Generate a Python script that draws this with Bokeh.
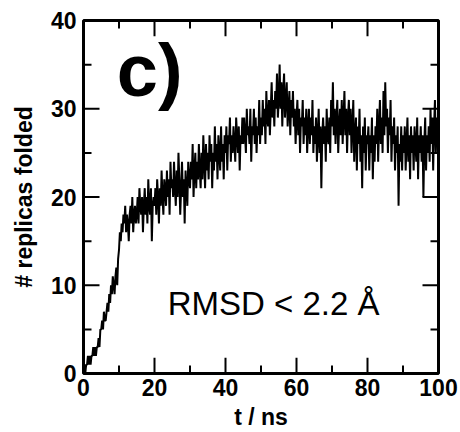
import numpy as np
from bokeh.plotting import figure
from bokeh.models import Range1d, FixedTicker, Label
from bokeh.embed import file_html
from bokeh.resources import INLINE

replicas_folded = [
    0, 1, 0, 1, 1, 2, 1, 2, 1, 2, 2, 3, 2, 3, 2, 3, 3, 4, 3, 5,
    5, 6, 5, 7, 6, 6, 7, 8, 7, 9, 8, 10, 9, 11, 10, 9, 11, 12, 10, 13,
    14, 16, 15, 17, 16, 18, 17, 19, 16, 18, 17, 15, 18, 19, 17, 20, 16, 18, 19, 17,
    18, 20, 17, 21, 19, 18, 20, 16, 19, 21, 18, 20, 17, 22, 19, 18, 21, 15, 19, 20,
    19, 21, 18, 22, 20, 17, 21, 19, 23, 20, 18, 22, 21, 19, 23, 20, 22, 18, 24, 21,
    22, 20, 24, 21, 19, 23, 20, 25, 22, 18, 21, 24, 20, 22, 17, 23, 21, 19, 24, 22,
    21, 24, 22, 26, 20, 23, 25, 21, 24, 22, 26, 23, 21, 25, 22, 27, 24, 21, 26, 23,
    25, 22, 27, 24, 26, 21, 25, 23, 28, 24, 26, 22, 27, 25, 23, 28, 24, 26, 22, 27,
    25, 28, 23, 27, 26, 29, 24, 27, 25, 28, 26, 24, 29, 27, 25, 28, 23, 27, 26, 29,
    26, 29, 27, 25, 30, 27, 28, 26, 30, 24, 28, 27, 30, 26, 29, 25, 28, 27, 31, 26,
    29, 27, 31, 28, 30, 26, 32, 29, 28, 31, 27, 30, 33, 29, 31, 28, 32, 30, 34, 29,
    31, 35, 30, 33, 28, 32, 34, 29, 31, 33, 28, 30, 32, 27, 31, 29, 32, 28, 30, 26,
    29, 31, 27, 30, 25, 29, 28, 31, 26, 29, 27, 30, 25, 28, 30, 26, 29, 27, 31, 25,
    28, 26, 29, 24, 27, 30, 25, 28, 21, 27, 29, 26, 28, 24, 30, 27, 26, 29, 25, 31,
    28, 33, 27, 30, 26, 29, 31, 25, 28, 30, 27, 31, 26, 29, 32, 27, 30, 25, 29, 31,
    27, 30, 25, 28, 31, 24, 27, 29, 23, 28, 26, 30, 24, 27, 21, 28, 25, 29, 23, 27,
    26, 28, 23, 27, 25, 29, 22, 27, 24, 28, 26, 30, 24, 28, 31, 26, 29, 25, 32, 27,
    33, 28, 30, 25, 29, 27, 31, 24, 28, 26, 29, 23, 27, 25, 28, 19, 26, 24, 28, 23,
    27, 25, 28, 23, 26, 29, 24, 27, 22, 28, 25, 27, 23, 28, 26, 24, 29, 22, 27, 25,
    28, 24, 27, 20, 26, 29, 23, 27, 25, 28, 24, 30, 26, 29, 23, 28, 31, 25, 29, 27,
    26,
]
time_ns = np.linspace(0, 100, len(replicas_folded))

x_major_ticks = [0, 20, 40, 60, 80, 100]
x_minor_ticks = [10, 30, 50, 70, 90]
y_major_ticks = [0, 10, 20, 30, 40]
y_minor_ticks = [5, 15, 25, 35]

X0, X1 = 0, 100
Y0, Y1 = 0, 40
FONT = "Liberation Sans"

p = figure(width=460, height=432, output_backend="svg", toolbar_location=None,
           x_range=Range1d(X0, X1), y_range=Range1d(Y0, Y1),
           min_border_left=83, min_border_right=22, min_border_top=20,
           min_border_bottom=56)
p.grid.visible = False
p.outline_line_color = "black"
p.outline_line_width = 3
p.background_fill_color = "white"
p.border_fill_color = "white"

p.line(time_ns, replicas_folded, line_color="black", line_width=2)

# inward ticks on all four sides (lengths: 16 px major, 8 px minor)
px_per_x = 355 / (X1 - X0)
px_per_y = 356 / (Y1 - Y0)
MAJ, MIN = 16, 8
tx0, ty0, tx1, ty1 = [], [], [], []
for ticks, L in ((x_major_ticks, MAJ), (x_minor_ticks, MIN)):
    ly = L / px_per_y
    for t in ticks:
        tx0 += [t, t]
        tx1 += [t, t]
        ty0 += [Y0, Y1]
        ty1 += [Y0 + ly, Y1 - ly]
for ticks, L in ((y_major_ticks, MAJ), (y_minor_ticks, MIN)):
    lx = L / px_per_x
    for v in ticks:
        ty0 += [v, v]
        ty1 += [v, v]
        tx0 += [X0, X1]
        tx1 += [X0 + lx, X1 - lx]
p.segment(x0=tx0, y0=ty0, x1=tx1, y1=ty1, line_color="black", line_width=2)


def style_axis(ax):
    ax.axis_line_color = None
    ax.major_tick_in = 0
    ax.major_tick_out = 0
    ax.minor_tick_in = 0
    ax.minor_tick_out = 0
    ax.major_tick_line_color = None
    ax.minor_tick_line_color = None
    ax.major_label_text_font = FONT
    ax.major_label_text_font_style = "bold"
    ax.major_label_text_font_size = "23px"
    ax.major_label_text_color = "black"
    ax.axis_label_text_font = FONT
    ax.axis_label_text_font_style = "bold"
    ax.axis_label_text_font_size = "23px"
    ax.axis_label_text_color = "black"


p.xaxis[0].ticker = FixedTicker(ticks=x_major_ticks, minor_ticks=x_minor_ticks)
p.yaxis[0].ticker = FixedTicker(ticks=y_major_ticks, minor_ticks=y_minor_ticks)
style_axis(p.xaxis[0])
style_axis(p.yaxis[0])
p.xaxis[0].axis_label = "t / ns"
p.yaxis[0].axis_label = "# replicas folded"
p.xaxis[0].major_label_standoff = 5
p.yaxis[0].major_label_standoff = 7
p.xaxis[0].axis_label_standoff = 5
p.yaxis[0].axis_label_standoff = 11

p.add_layout(Label(x=9.4, y=34.3, text="c)", text_font=FONT, text_font_style="bold",
                   text_font_size="74px", text_color="black",
                   text_baseline="alphabetic"))
p.add_layout(Label(x=23.7, y=7.9, text="RMSD < 2.2 Å", text_font=FONT,
                   text_font_size="33px", text_color="black",
                   text_baseline="alphabetic"))

open("out.html", "w").write(file_html(p, INLINE))
